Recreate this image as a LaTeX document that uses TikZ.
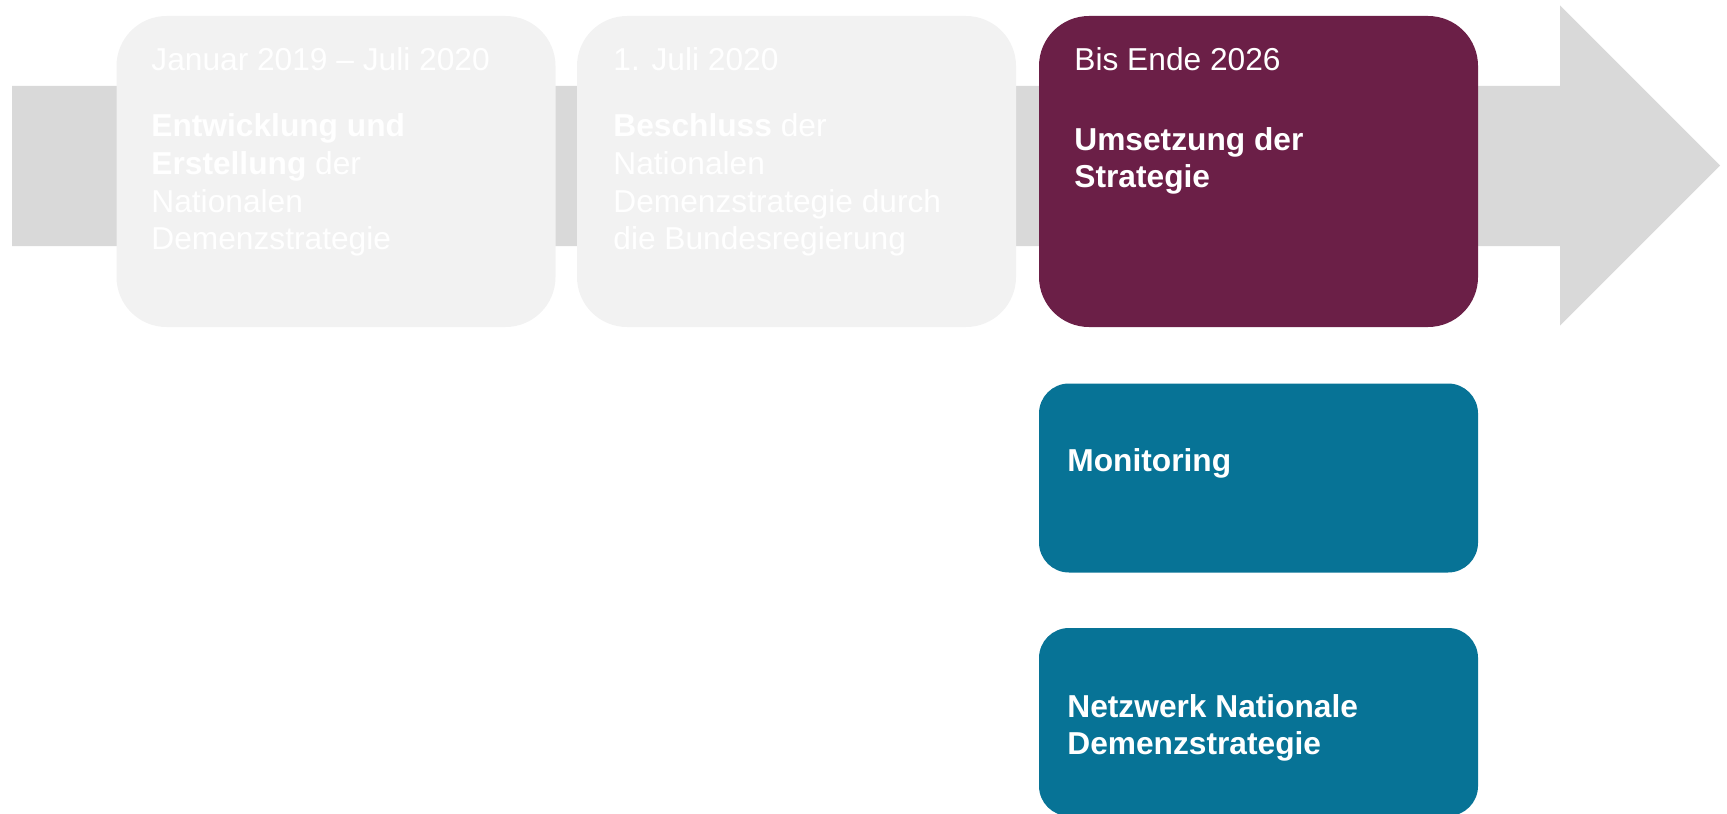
\documentclass[tikz,border=0pt]{standalone}
\usepackage{fontspec}
\setmainfont{Liberation Sans}
\begin{document}
\definecolor{barGrey}{HTML}{D9D9D9}
\definecolor{paleBox}{HTML}{F2F2F2}
\definecolor{plum}{HTML}{6B1F47}
\definecolor{petrol}{HTML}{077396}
\tikzset{
  stagebox/.style={rectangle, rounded corners=25pt, inner sep=0pt, draw=none,
    minimum width=219.5pt, minimum height=155.5pt},
  subbox/.style={rectangle, rounded corners=15pt, inner sep=0pt, draw=none,
    fill=petrol, minimum width=219.5pt},
  label/.style={anchor=base west, inner sep=0pt, text=white}
}
\newcommand{\blocktext}[1]{\parbox[t]{200pt}{\fontsize{15.85pt}{18.9pt}\selectfont\raggedright #1}}
\begin{tikzpicture}[x=0.5pt,y=-0.5pt]
  \useasboundingbox (0,0) rectangle (1727,813);
  % timeline arrow behind the stages
  \fill[barGrey] (12,86) -- (1560,86) -- (1560,5.5) -- (1720,165.5)
    -- (1560,325.5) -- (1560,246) -- (12,246) -- cycle;

  % stage boxes
  \node[stagebox, fill=paleBox] (s1) at (336,171.5) {};
  \node[stagebox, fill=paleBox] (s2) at (796.5,171.5) {};
  \node[stagebox, fill=plum]    (s3) at (1258.5,171.5) {};

  % work strands below the current stage
  \node[subbox, minimum height=94.5pt] (mon) at (1258.5,478) {};
  \node[subbox, minimum height=94pt]   (net) at (1258.5,722) {};

  % stage texts
  \node[label] (d1) at (151,71) {\blocktext{Januar 2019 – Juli 2020}};
  \node[label] (t1) at (151,136.5) {\blocktext{\textbf{Entwicklung und}\\\textbf{Erstellung} der\\Nationalen\\Demenzstrategie}};
  \node[label] (d2) at (613,71) {\blocktext{1. Juli 2020}};
  \node[label] (t2) at (613,136.5) {\blocktext{\textbf{Beschluss} der\\Nationalen\\Demenzstrategie durch\\die Bundesregierung}};
  \node[label] (d3) at (1074,71) {\blocktext{Bis Ende 2026}};
  \node[label] (t3) at (1074,150) {\blocktext{\textbf{Umsetzung der}\\\textbf{Strategie}}};

  % strand texts
  \node[label] (tm) at (1067,471.5) {\blocktext{\textbf{Monitoring}}};
  \node[label] (tn) at (1067,717) {\blocktext{\textbf{Netzwerk Nationale}\\\textbf{Demenzstrategie}}};
\end{tikzpicture}
\end{document}
